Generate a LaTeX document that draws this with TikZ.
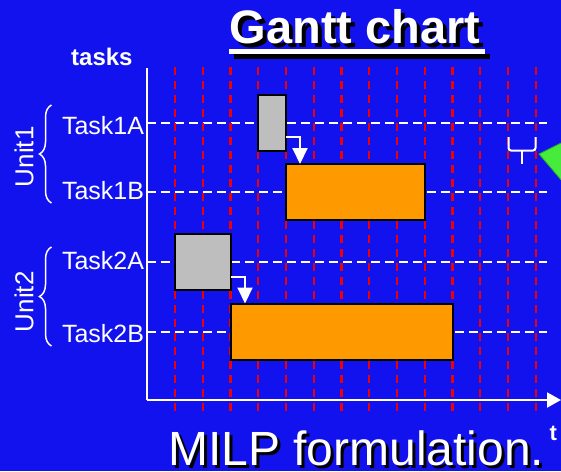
\documentclass[tikz,border=0pt]{standalone}
\usepackage{fontspec}
\setmainfont{Liberation Sans}
\usetikzlibrary{arrows.meta,decorations.pathreplacing,calc}

\definecolor{slidebg}{RGB}{18,18,238}
\definecolor{gridred}{RGB}{240,0,0}
\definecolor{taskgray}{RGB}{190,190,190}
\definecolor{taskorange}{RGB}{255,153,0}
\definecolor{pointgreen}{RGB}{70,235,60}
\definecolor{pointedge}{RGB}{40,170,40}

\begin{document}
\begin{tikzpicture}[x=1pt,y=-1pt,
  every node/.style={inner sep=0pt, outer sep=0pt},
  axisline/.style={white, line width=2pt},
  timeline/.style={gridred, line width=2.2pt, dash pattern=on 8pt off 6pt},
  rowline/.style={white, line width=2pt, dash pattern=on 9pt off 5pt},
  job/.style={draw=black, line width=2pt, minimum height=56pt, anchor=center},
  shortjob/.style={job, fill=taskgray},
  longjob/.style={job, fill=taskorange},
  flow/.style={white, line width=2pt, -{Triangle[width=15pt,length=16pt]}},
  tasklabel/.style={white, font=\fontsize{25}{30}\selectfont, anchor=base east},
  unitlabel/.style={white, font=\fontsize{26}{30}\selectfont, anchor=base, rotate=90},
  unitbrace/.style={white, line width=1.5pt, decorate, decoration={brace, amplitude=12pt}},
  bigtitle/.style={font=\bfseries\fontsize{47}{56}\selectfont, anchor=base west, text depth=0pt},
  caption/.style={font=\fontsize{48}{56}\selectfont, anchor=base west, text depth=0pt},
]
\useasboundingbox (0,0) rectangle (561,471);
\fill[slidebg] (0,0) rectangle (561,471);

% task rows
\foreach \ry in {123.3,192,262,331.5}
  \draw[rowline] (147,\ry) -- (547,\ry);

% time grid
\foreach \i in {0,...,13}
  \draw[timeline] ({175+27.75*\i},67) -- ({175+27.75*\i},411);

% axes
\coordinate (ytop) at (147,68);
\coordinate (origin) at (147,400);
\coordinate (xend) at (561,400);
\draw[axisline] (ytop) -- (origin);
\draw[axisline, -{Triangle[width=15pt,length=14pt]}] (origin) -- (xend);

% jobs
\node[shortjob, minimum width=27.75pt] (t1a) at (272.125,123.3) {};
\node[longjob, minimum width=138.75pt] (t1b) at (355.375,192) {};
\node[shortjob, minimum width=55.5pt] (t2a) at (202.75,262) {};
\node[longjob, minimum width=222pt] (t2b) at (341.5,331.5) {};

% precedence
\draw[flow] ([yshift=-13.4pt]t1a.east) -| ([xshift=14pt]t1b.north west);
\draw[flow] ([yshift=-14.7pt]t2a.east) -| ([xshift=14.5pt]t2b.north west);

% row labels
\node[tasklabel] (lab1a) at (144,134.3) {Task1A};
\node[tasklabel] (lab1b) at (144,199.8) {Task1B};
\node[tasklabel] (lab2a) at (144,269.8) {Task2A};
\node[tasklabel] (lab2b) at (144,342) {Task2B};

% units
\draw[unitbrace] (51.5,203) -- (51.5,105);
\draw[unitbrace] (51.5,346) -- (51.5,247);
\node[unitlabel] (unit1) at (33.3,156.7) {Unit1};
\node[unitlabel] (unit2) at (33.3,301.7) {Unit2};

% slot marker
\draw[white, line width=2pt, rounded corners=2.5pt] (508.5,137) -- (508.5,150.5) -- (535.5,150.5) -- (535.5,137);
\draw[white, line width=2pt] (522,150.5) -- (522,164);
\filldraw[fill=pointgreen, draw=pointedge, line width=0.8pt] (539,154) -- (562,142.5) -- (562,181) -- cycle;

% headings
\node[white, font=\bfseries\fontsize{24}{28}\selectfont, anchor=base west] (tasks) at (71.2,65.7) {tasks};
\node[white, font=\bfseries\fontsize{22}{26}\selectfont, anchor=base west] (tlabel) at (549.5,440) {t};

\node[bigtitle, black] (titleshadow) at (233.6,47.6) {Gantt chart};
\node[bigtitle, white] (title) at (229.6,43.6) {Gantt chart};
\fill[black] ($(title.base west)+(4.7,10.7)$) rectangle ($(title.base east)+(9.4,15.7)$);
\fill[white] ($(title.base west)+(-0.3,5.7)$) rectangle ($(title.base east)+(4.7,10.7)$);

\node[caption, black] (milpshadow) at (171.2,468) {MILP formulation.};
\node[caption, white] (milp) at (168.2,465) {MILP formulation.};
\end{tikzpicture}
\end{document}
